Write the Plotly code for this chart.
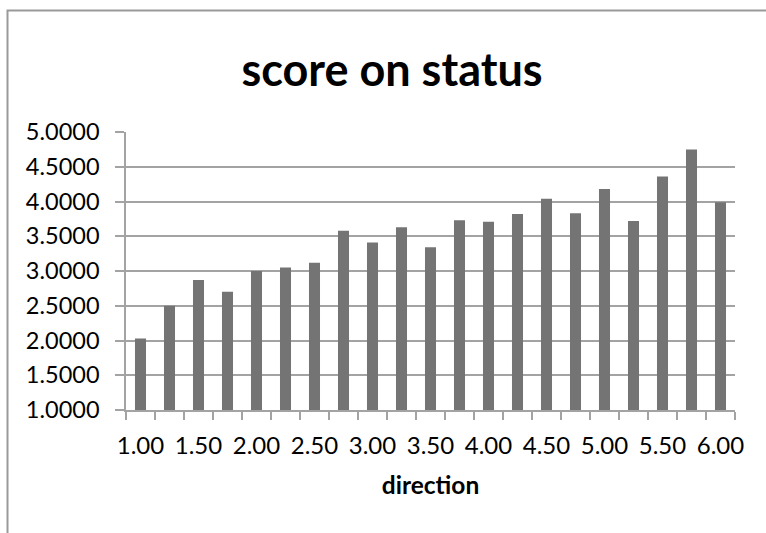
import plotly.graph_objects as go

# Mean score for each direction level
directions = [1.00, 1.25, 1.50, 1.75, 2.00, 2.25, 2.50, 2.75, 3.00, 3.25, 3.50,
              3.75, 4.00, 4.25, 4.50, 4.75, 5.00, 5.25, 5.50, 5.75, 6.00]
scores = [2.03, 2.50, 2.87, 2.70, 3.00, 3.05, 3.12, 3.58, 3.41, 3.63, 3.34,
          3.73, 3.71, 3.82, 4.04, 3.83, 4.18, 3.72, 4.36, 4.75, 3.99]

# Labelled ticks every 0.50, y ticks every 0.5
x_labels = [1.00, 1.50, 2.00, 2.50, 3.00, 3.50, 4.00, 4.50, 5.00, 5.50, 6.00]
y_ticks = [1.0, 1.5, 2.0, 2.5, 3.0, 3.5, 4.0, 4.5, 5.0]

step = directions[1] - directions[0]
half = step / 2
# Tick marks sit between the bars, as on a category axis
boundaries = [d - half for d in directions] + [directions[-1] + half]

GRID = "#a3a3a3"
BAR = "#747474"
FONT = "Lato"

fig = go.Figure(
    go.Bar(
        x=directions,
        y=scores,
        marker=dict(color=BAR, line=dict(width=0)),
        showlegend=False,
    )
)

fig.update_layout(
    width=766,
    height=533,
    margin=dict(l=126, r=31, t=132, b=123),
    paper_bgcolor="white",
    plot_bgcolor="white",
    bargap=0.62,
    font=dict(family=FONT, color="#000000", size=24),
    title=dict(
        text="<b>score on status</b>",
        x=392 / 766,
        xref="container",
        xanchor="center",
        y=1 - 70 / 533,
        yref="container",
        yanchor="middle",
        font=dict(family=FONT, size=45, color="#000000"),
    ),
)

fig.update_xaxes(
    range=[boundaries[0], boundaries[-1]],
    tickvals=x_labels,
    tickformat=".2f",
    ticks="",
    showgrid=False,
    showline=True,
    linecolor=GRID,
    linewidth=1.5,
    zeroline=False,
    tickfont=dict(family=FONT, size=24),
    ticklabelstandoff=13,
    minor=dict(tickvals=boundaries, ticks="outside", ticklen=8,
               tickcolor=GRID, tickwidth=1.5, showgrid=False),
    title=dict(text="<b>direction</b>", font=dict(family=FONT, size=24.5),
               standoff=19),
)

fig.update_yaxes(
    range=[1.0, 5.0],
    tickvals=y_ticks,
    tickformat=".4f",
    ticks="outside",
    ticklen=9,
    tickcolor=GRID,
    tickwidth=1.5,
    showgrid=True,
    gridcolor=GRID,
    gridwidth=1.5,
    showline=True,
    linecolor=GRID,
    linewidth=1.5,
    zeroline=False,
    tickfont=dict(family=FONT, size=23.5),
    ticklabelstandoff=11,
)

# Chart-area border (its right and bottom edges run past the page)
fig.add_shape(
    type="rect",
    xref="paper", yref="paper",
    x0=(7.5 - 126) / 609, x1=1.1,
    y0=-0.5, y1=(410 - 10.5) / 278,
    line=dict(color="#9a9a9a", width=2),
    fillcolor="rgba(0,0,0,0)",
    layer="below",
)

fig.write_html("out.html")
